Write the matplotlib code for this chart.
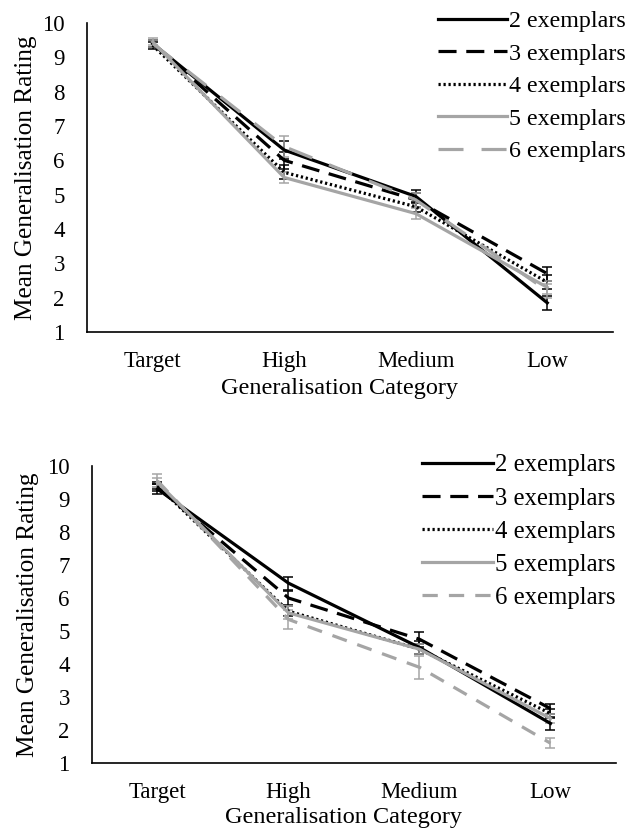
import matplotlib
matplotlib.use("Agg")
import matplotlib.pyplot as plt

plt.rcParams["font.family"] = ["Liberation Serif", "DejaVu Serif"]
plt.rcParams["lines.scale_dashes"] = False

CATEGORIES = ["Target", "High", "Medium", "Low"]
SERIES = ["2 exemplars", "3 exemplars", "4 exemplars", "5 exemplars", "6 exemplars"]

# top panel
top_means = {
    "2 exemplars": [9.40, 6.30, 4.95, 1.85],
    "3 exemplars": [9.40, 6.00, 4.85, 2.70],
    "4 exemplars": [9.35, 5.65, 4.65, 2.45],
    "5 exemplars": [9.45, 5.50, 4.45, 2.30],
    "6 exemplars": [9.40, 6.40, 4.85, 2.20],
}
top_err = {
    "2 exemplars": [0.10, 0.25, 0.20, 0.20],
    "3 exemplars": [0.10, 0.25, 0.20, 0.20],
    "4 exemplars": [0.10, 0.20, 0.15, 0.20],
    "5 exemplars": [0.10, 0.15, 0.15, 0.20],
    "6 exemplars": [0.10, 0.30, 0.20, 0.20],
}

# bottom panel
bot_means = {
    "2 exemplars": [9.30, 6.45, 4.50, 2.20],
    "3 exemplars": [9.35, 6.00, 4.75, 2.65],
    "4 exemplars": [9.40, 5.60, 4.45, 2.50],
    "5 exemplars": [9.50, 5.55, 4.45, 2.35],
    "6 exemplars": [9.55, 5.35, 3.90, 1.60],
}
bot_err = {
    "2 exemplars": [0.15, 0.20, 0.20, 0.20],
    "3 exemplars": [0.10, 0.20, 0.22, 0.15],
    "4 exemplars": [0.10, 0.15, 0.15, 0.15],
    "5 exemplars": [0.15, 0.20, 0.15, 0.15],
    "6 exemplars": [0.20, 0.30, 0.35, 0.15],
}

BLACK = "#000000"
GREY = "#a5a5a5"
LW = 2.3


def styles(long_dash_six):
    six = (0, (18, 13)) if long_dash_six else (0, (11, 8))
    return {
        "2 exemplars": dict(color=BLACK, ls="-"),
        "3 exemplars": dict(color=BLACK, ls=(0, (13, 7))),
        "4 exemplars": dict(color=BLACK, ls=(0, (1.6, 2.0))),
        "5 exemplars": dict(color=GREY, ls="-"),
        "6 exemplars": dict(color=GREY, ls=six),
    }


def draw_panel(ax, means, errs, long_dash_six, leg_anchor, leg_size):
    x = [i + 0.5 for i in range(len(CATEGORIES))]
    st = styles(long_dash_six)
    handles = []
    for name in SERIES:
        s = st[name]
        ax.errorbar(x, means[name], yerr=errs[name], fmt="none", ecolor=s["color"],
                    elinewidth=1.1, capsize=3.5, capthick=1.1, zorder=2)
        ln, = ax.plot(x, means[name], color=s["color"], ls=s["ls"], lw=LW,
                      label=name, zorder=3)
        handles.append(ln)

    ax.set_xlim(0, 4)
    ax.set_ylim(1, 10)
    ax.set_xticks(x)
    ax.set_xticklabels(CATEGORIES)
    ax.set_yticks(range(1, 11))
    ax.tick_params(axis="both", length=0, labelsize=16.5)
    ax.tick_params(axis="y", pad=16)
    ax.tick_params(axis="x", pad=14)
    for side in ["top", "right"]:
        ax.spines[side].set_visible(False)
    for side in ["left", "bottom"]:
        ax.spines[side].set_linewidth(1.2)
    ax.set_ylabel("Mean Generalisation Rating", fontsize=18.2)
    ax.set_xlabel("Generalisation Category", fontsize=17.5)

    ax.legend(handles=handles, loc="upper left", bbox_to_anchor=leg_anchor,
              frameon=False, fontsize=leg_size, handlelength=2.85, handletextpad=0.1,
              labelspacing=0.44, borderpad=0, borderaxespad=0)


fig = plt.figure(figsize=(6.34, 8.33), dpi=100)
ax1 = fig.add_axes([0.1372, 0.6014, 0.8297, 0.3710])
ax2 = fig.add_axes([0.1451, 0.0840, 0.8265, 0.3566])

draw_panel(ax1, top_means, top_err, True, (0.668, 1.04), 17.3)
draw_panel(ax2, bot_means, bot_err, False, (0.630, 1.04), 17.8)

ax1.yaxis.set_label_coords(-0.095, 0.5)
ax1.xaxis.set_label_coords(0.48, -0.148)
ax2.yaxis.set_label_coords(-0.101, 0.5)
ax2.xaxis.set_label_coords(0.48, -0.149)

fig.savefig("out.png", dpi=100)
